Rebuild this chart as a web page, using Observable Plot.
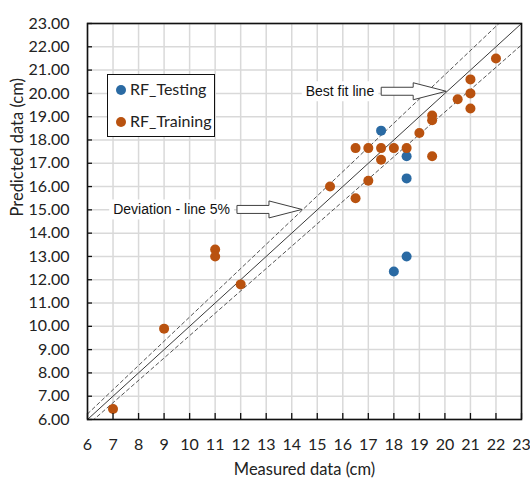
<!DOCTYPE html>
<html>
<head>
<meta charset="utf-8">
<script src="https://cdn.jsdelivr.net/npm/d3@7"></script>
<script src="https://cdn.jsdelivr.net/npm/@observablehq/plot@0.6"></script>
<style>
  body { margin: 0; background: #fff; }
  #wrap { position: relative; width: 530px; height: 479px; }
  #legend { position: absolute; left: 107px; top: 74px; width: 106px; height: 61px;
    border: 1.5px solid #111; background: #fff; font-family: Lato, sans-serif; font-size: 16px; color: #222; }
  .item { position: absolute; left: 8px; height: 20px; line-height: 20px; white-space: nowrap; }
  .sw { display: inline-block; width: 10px; height: 10px; border-radius: 50%; vertical-align: middle; margin-right: 4px; position: relative; top: -1px; }
</style>
</head>
<body>
<div id="wrap"></div>
<script>
// ---- data ----
const series = ["RF_Testing", "RF_Training"];
const seriesColors = ["#2a6aa3", "#b9520f"];

const testingMeasured  = [17.5, 18.5, 18.5, 18.5, 18];
const testingPredicted = [18.4, 17.3, 16.35, 13.0, 12.35];

const trainingMeasured  = [7, 9, 11, 11, 12, 15.5, 16.5, 16.5, 17, 17, 17.5, 17.5, 18, 18.5, 19, 19.5, 19.5, 19.5, 20.5, 21, 21, 21, 22];
const trainingPredicted = [6.45, 9.9, 13.3, 13.0, 11.8, 16.0, 15.5, 17.65, 16.25, 17.65, 17.65, 17.15, 17.65, 17.65, 18.3, 19.05, 18.85, 17.3, 19.75, 20.6, 20.0, 19.35, 21.5];

const xTicks = [6, 7, 8, 9, 10, 11, 12, 13, 14, 15, 16, 17, 18, 19, 20, 21, 22, 23];
const yTicks = [6, 7, 8, 9, 10, 11, 12, 13, 14, 15, 16, 17, 18, 19, 20, 21, 22, 23];

const axisRange = [6, 23];
const refLineNames  = ["Best fit line", "Upper deviation", "Lower deviation"];
const refLineSlopes = [1, 1.04, 0.96];

const annotationLabels = ["Best fit line", "Deviation - line 5%"];
const annotationAtX    = [20.07, 14.42];
const annotationLine   = [0, 1];

const xTitle = "Measured data (cm)";
const yTitle = "Predicted data (cm)";

// ---- build tables ----
const testing  = testingMeasured.map((m, i) => ({measured: m, predicted: testingPredicted[i], series: series[0]}));
const training = trainingMeasured.map((m, i) => ({measured: m, predicted: trainingPredicted[i], series: series[1]}));
const refLines = refLineNames.flatMap((name, i) => axisRange.map(v => ({name, x: v, y: v * refLineSlopes[i]})));

const plot = Plot.plot({
  width: 530,
  height: 479,
  marginTop: 23,
  marginRight: 9,
  marginBottom: 60,
  marginLeft: 87,
  style: {fontFamily: "Lato, sans-serif", fontSize: "16px", color: "#222", background: "white", overflow: "visible"},
  x: {domain: axisRange},
  y: {domain: axisRange},
  marks: [
    Plot.gridX(xTicks, {stroke: "#d9d9d9", strokeOpacity: 1, strokeWidth: 1.5}),
    Plot.gridY(yTicks, {stroke: "#d9d9d9", strokeOpacity: 1, strokeWidth: 1.5}),
    Plot.line(refLines.filter(d => d.name === refLineNames[0]), {x: "x", y: "y", stroke: "#3a3a3a", strokeWidth: 1, clip: true}),
    Plot.line(refLines.filter(d => d.name !== refLineNames[0]), {x: "x", y: "y", z: "name", stroke: "#555", strokeWidth: 1, strokeDasharray: "3.5,3", clip: true}),
    Plot.dot(testing,  {x: "measured", y: "predicted", r: 5, fill: seriesColors[0]}),
    Plot.dot(training, {x: "measured", y: "predicted", r: 5, fill: seriesColors[1]}),
    Plot.ruleX(xTicks, {x: d => d, y1: axisRange[0], y2: axisRange[0], insetTop: -6, stroke: "#111", strokeWidth: 1.3}),
    Plot.ruleY(yTicks, {y: d => d, x1: axisRange[0], x2: axisRange[0], insetRight: -5, stroke: "#111", strokeWidth: 1.3}),
    Plot.axisX(xTicks, {tickSize: 0, tickPadding: 19, fontSize: 16, label: null}),
    Plot.axisY(yTicks, {tickSize: 0, tickPadding: 18, fontSize: 16, tickFormat: d3.format(".2f"), label: null}),
    Plot.frame({stroke: "#111", strokeWidth: 1.6}),
    Plot.text([xTitle], {text: d => d, frameAnchor: "bottom", lineAnchor: "middle", dy: 50, fontSize: 16.5}),
    Plot.text([yTitle], {text: d => d, frameAnchor: "left", lineAnchor: "middle", rotate: -90, dx: -70, dy: -5, fontSize: 16.5})
  ]
});

document.getElementById("wrap").appendChild(plot);

// ---- annotations (callout arrows), placed with the plot's scales ----
const sx = plot.scale("x"), sy = plot.scale("y");
const svg = d3.select(plot);
const g = svg.append("g").attr("font-family", "'Liberation Sans', Arial, sans-serif").attr("font-size", 14);
annotationLabels.forEach((label, i) => {
  const xv = annotationAtX[i];
  const tx = sx.apply(xv), ty = sy.apply(xv * refLineSlopes[annotationLine[i]]);
  const headLen = 33, headH = 8.5, shaftLen = 32, shaftH = 4;
  const hx = tx - headLen, s0 = hx - shaftLen;
  const bg = g.append("rect").attr("fill", "white");
  const t = g.append("text").attr("x", s0 - 7).attr("y", ty).attr("text-anchor", "end")
    .attr("dominant-baseline", "central").attr("fill", "#111").text(label);
  const bb = t.node().getBBox();
  bg.attr("x", bb.x - 4).attr("y", bb.y - 2).attr("width", bb.width + 8).attr("height", bb.height + 4);
  g.append("path")
    .attr("d", `M${s0},${ty - shaftH}L${hx},${ty - shaftH}L${hx},${ty - headH}L${tx},${ty}L${hx},${ty + headH}L${hx},${ty + shaftH}L${s0},${ty + shaftH}Z`)
    .attr("fill", "white").attr("stroke", "#404040").attr("stroke-width", 1);
});

// ---- legend (inside the plot area) ----
const legend = document.createElement("div");
legend.id = "legend";
series.forEach((s, i) => {
  const item = document.createElement("div");
  item.className = "item";
  item.style.top = (4 + i * 32) + "px";
  item.innerHTML = `<span class="sw" style="background:${seriesColors[i]}"></span>${s}`;
  legend.appendChild(item);
});
document.getElementById("wrap").appendChild(legend);
</script>
</body>
</html>
